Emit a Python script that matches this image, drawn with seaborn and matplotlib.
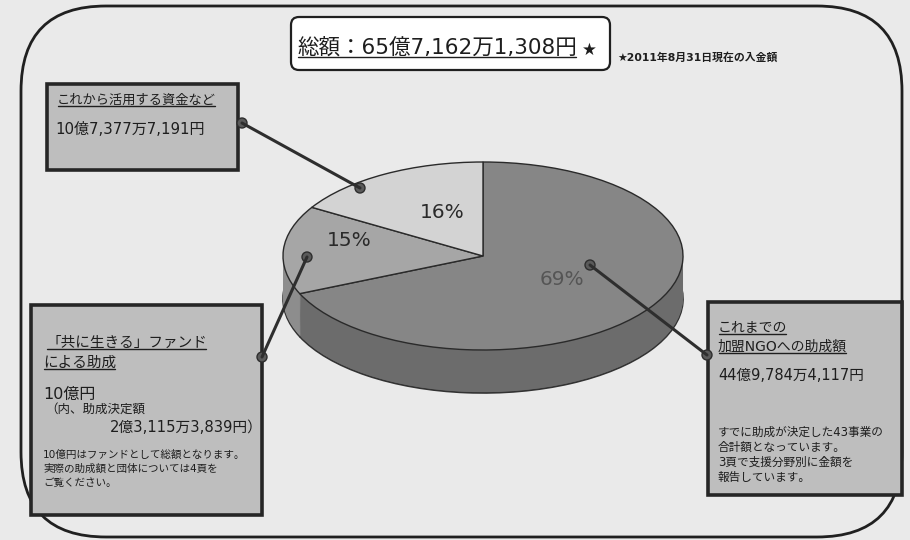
import matplotlib
matplotlib.use("Agg")
import matplotlib.pyplot as plt
import seaborn as sns
from matplotlib.patches import FancyBboxPatch, Rectangle, Circle

# ---- data ----
slice_names = ["加盟NGOへの助成額", "「共に生きる」ファンド", "これから活用する資金など"]
slice_amounts = [4497844117, 1000000000, 1073777191]   # yen
slice_pct_labels = ["69%", "15%", "16%"]
top_colors = ["#868686", "#a6a6a6", "#d3d3d3"]
side_colors = ["#6c6c6c", "#8d8d8d", "#b5b5b5"]

title_text = "総額：65億7,162万1,308円"
note_text = "★2011年8月31日現在の入金額"

box1_lines = ["これから活用する資金など", "10億7,377万7,191円"]
box2_lines = ["「共に生きる」ファンド", "による助成", "10億円", "（内、助成決定額",
              "2億3,115万3,839円）", "10億円はファンドとして総額となります。",
              "実際の助成額と団体については4頁を", "ご覧ください。"]
box3_lines = ["これまでの", "加盟NGOへの助成額", "44億9,784万4,117円",
              "すでに助成が決定した43事業の", "合計額となっています。",
              "3頁で支援分野別に金額を", "報告しています。"]

sns.set_theme(style="white")
# wide latin digits from DejaVu, Japanese from Noto CJK
plt.rcParams["font.family"] = ["DejaVu Sans", "Noto Sans CJK JP"]

BG = "#eaeaea"
INK = "#1e1e1e"
W, H = 910, 540

fig = plt.figure(figsize=(W / 100, H / 100), dpi=100, facecolor=BG)

# base layer: outer rounded frame
base = fig.add_axes([0, 0, 1, 1], zorder=0)
base.set_xlim(0, W)
base.set_ylim(H, 0)
base.axis("off")
base.add_patch(FancyBboxPatch((21, 6), 881, 531, boxstyle="round,pad=0,rounding_size=85",
                              fc="none", ec="#202020", lw=2.0))

# ---- 3D-looking pie ----
cx, cy, rx, ry, depth = 483, 256, 200, 94, 43
d = depth / ry
pie_ax = fig.add_axes([(cx - rx) / W, (H - (cy + ry + depth)) / H,
                       2 * rx / W, (2 * ry + depth) / H], zorder=1)
n_layers = 44
for k in range(n_layers, 0, -1):
    ec = "#333333" if k == n_layers else "none"
    pie_ax.pie(slice_amounts, startangle=90, counterclock=False, colors=side_colors,
               center=(0, -d * k / n_layers), radius=1,
               wedgeprops=dict(linewidth=1.2 if k == n_layers else 0, edgecolor=ec))
wedges, _ = pie_ax.pie(slice_amounts, startangle=90, counterclock=False, colors=top_colors,
                       radius=1, wedgeprops=dict(linewidth=1.0, edgecolor="#2a2a2a"))
pie_ax.set_aspect("auto")
pie_ax.set_xlim(-1, 1)
pie_ax.set_ylim(-1 - d, 1)
pie_ax.axis("off")

# percent labels placed like the original
pct_pos = [(0.395, -0.255), (-0.67, 0.17), (-0.205, 0.468)]
pct_col = ["#555555", "#2a2a2a", "#2a2a2a"]
for lab, (px, py), c in zip(slice_pct_labels, pct_pos, pct_col):
    pie_ax.text(px, py, lab, fontsize=14.5, color=c, ha="center", va="center")

# ---- overlay: boxes, texts and connectors ----
ax = fig.add_axes([0, 0, 1, 1], zorder=3)
ax.patch.set_alpha(0)
ax.set_xlim(0, W)
ax.set_ylim(H, 0)
ax.axis("off")

# title box
ax.add_patch(FancyBboxPatch((291, 17), 319, 53, boxstyle="round,pad=0,rounding_size=8",
                            fc="white", ec="#202020", lw=1.6))
t_title = ax.text(297, 48, title_text, fontsize=15.5, color=INK, va="center")
ax.text(582, 50, "★", fontsize=12, color=INK, va="center")
ax.text(617, 57, note_text, fontsize=7.8, fontweight="bold", color=INK, va="center")

# callout boxes
for (x0, y0, x1, y1) in [(47, 84, 238, 170), (31, 305, 262, 515), (708, 302, 902, 495)]:
    ax.add_patch(Rectangle((x0, y0), x1 - x0, y1 - y0, fc="#bebebe", ec="#262626", lw=2.6))

underlined = []
underlined.append(ax.text(57, 100, box1_lines[0], fontsize=9.5, color=INK, va="center"))
ax.text(55, 129, box1_lines[1], fontsize=10.8, color=INK, va="center")

underlined.append(ax.text(46, 342, box2_lines[0], fontsize=10.5, color=INK, va="center"))
underlined.append(ax.text(43, 362, box2_lines[1], fontsize=10.5, color=INK, va="center"))
ax.text(43, 394, box2_lines[2], fontsize=11.5, color=INK, va="center")
ax.text(45, 409, box2_lines[3], fontsize=9, color=INK, va="center")
ax.text(110, 427, box2_lines[4], fontsize=10.6, color=INK, va="center")
for yy, s in zip([455, 469, 483], box2_lines[5:]):
    ax.text(43, yy, s, fontsize=7.6, color=INK, va="center")

underlined.append(ax.text(718, 328, box3_lines[0], fontsize=10, color=INK, va="center"))
underlined.append(ax.text(718, 347, box3_lines[1], fontsize=10, color=INK, va="center"))
ax.text(718, 376, box3_lines[2], fontsize=10.5, color=INK, va="center")
for yy, s in zip([432, 447, 462, 477], box3_lines[3:]):
    ax.text(718, yy, s, fontsize=8.4, color=INK, va="center")

# connector lines with dot ends (box edge -> slice)
connectors = [((242, 123), (360, 188)), ((262, 357), (307, 257)), ((707, 355), (590, 265))]
for (xa, ya), (xb, yb) in connectors:
    ax.plot([xa, xb], [ya, yb], color="#2e2e2e", lw=2.2, solid_capstyle="round")
    for (xx, yy) in [(xa, ya), (xb, yb)]:
        ax.add_patch(Circle((xx, yy), 5, fc="#5a5a5a", ec="#2e2e2e", lw=1))

# underline selected texts using their rendered extents
fig.canvas.draw()
inv = ax.transData.inverted()
for t in [t_title] + underlined:
    bb = t.get_window_extent()
    (xl, yb), (xr, _) = inv.transform([[bb.x0, bb.y0], [bb.x1, bb.y1]])
    ax.plot([xl + 1, xr - 1], [yb - 1, yb - 1], color=INK, lw=1.0)

fig.savefig("out.png", dpi=100, facecolor=BG)
